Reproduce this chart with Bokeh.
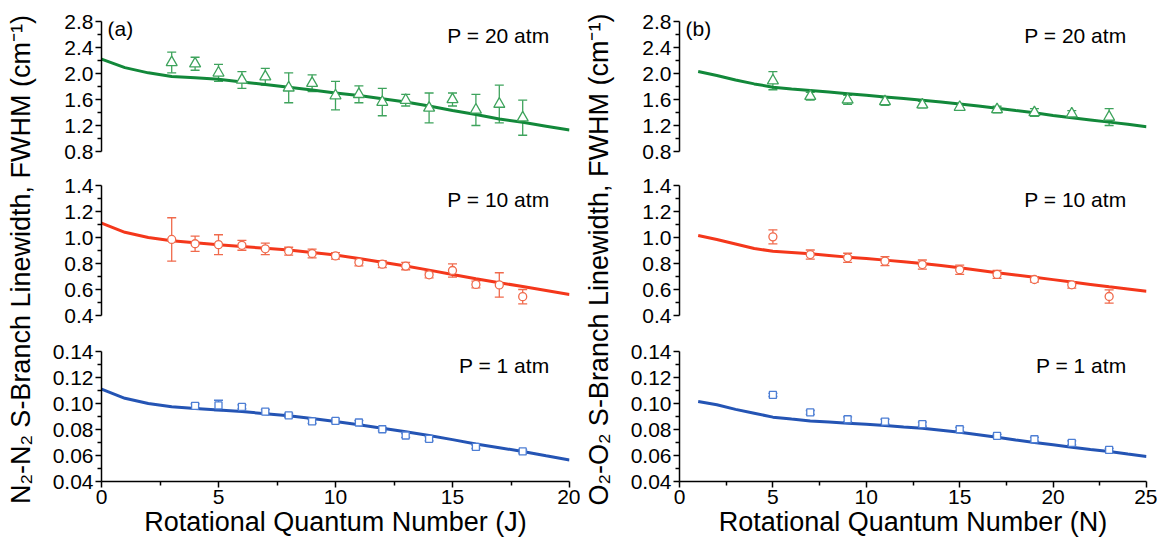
from math import pi
from bokeh.plotting import figure
from bokeh.layouts import row, column
from bokeh.models import (ColumnDataSource, Range1d, FixedTicker, NumeralTickFormatter,
                          Whisker, TeeHead, Label)
from bokeh.embed import file_html
from bokeh.resources import INLINE

# ---------------- data : (a) N2-N2 ----------------
J_model = list(range(0, 21))
model20_N2 = [2.22, 2.09, 2.01, 1.955, 1.935, 1.91, 1.87, 1.83, 1.79, 1.745, 1.70, 1.66,
              1.61, 1.56, 1.50, 1.43, 1.37, 1.30, 1.25, 1.19, 1.13]
model10_N2 = [1.11, 1.04, 1.00, 0.975, 0.96, 0.945, 0.93, 0.918, 0.903, 0.885, 0.865,
              0.838, 0.81, 0.78, 0.749, 0.715, 0.682, 0.652, 0.623, 0.593, 0.562]
model1_N2 = [0.111, 0.104, 0.100, 0.0975, 0.0962, 0.095, 0.0938, 0.0922, 0.0905, 0.0885,
             0.0862, 0.0837, 0.081, 0.0783, 0.0754, 0.0722, 0.0689, 0.066, 0.0631, 0.0598, 0.0566]

J_20 = [3, 4, 5, 6, 7, 8, 9, 10, 11, 12, 13, 14, 15, 16, 17, 18]
fwhm20_N2 = [2.17, 2.15, 2.01, 1.90, 1.95, 1.78, 1.85, 1.66, 1.68, 1.56, 1.59, 1.47, 1.60, 1.44, 1.53, 1.32]
err20_N2 = [0.16, 0.10, 0.13, 0.13, 0.13, 0.23, 0.13, 0.22, 0.13, 0.21, 0.09, 0.23, 0.10, 0.24, 0.29, 0.27]

J_10 = [3, 4, 5, 6, 7, 8, 9, 10, 11, 12, 13, 14, 15, 16, 17, 18]
fwhm10_N2 = [0.985, 0.952, 0.945, 0.940, 0.913, 0.895, 0.877, 0.858, 0.809, 0.795, 0.780,
             0.713, 0.746, 0.639, 0.635, 0.545]
err10_N2 = [0.167, 0.059, 0.076, 0.038, 0.044, 0.030, 0.033, 0.025, 0.027, 0.026, 0.028,
            0.023, 0.051, 0.026, 0.094, 0.055]

J_1 = [4, 5, 6, 7, 8, 9, 10, 11, 12, 13, 14, 16, 18]
fwhm1_N2 = [0.0982, 0.0985, 0.0974, 0.0938, 0.0908, 0.0862, 0.0866, 0.0854, 0.0802, 0.0754,
            0.0728, 0.0666, 0.0631]
err1_N2 = [0.0015, 0.004, 0.0015, 0.0015, 0.0015, 0.0015, 0.0015, 0.0015, 0.0012, 0.0015,
           0.0015, 0.0012, 0.0012]

# ---------------- data : (b) O2-O2 ----------------
N_model = list(range(1, 26))
model20_O2 = [2.03, 1.97, 1.90, 1.84, 1.79, 1.76, 1.74, 1.715, 1.69, 1.665, 1.64, 1.615, 1.59,
              1.56, 1.53, 1.50, 1.467, 1.43, 1.395, 1.355, 1.318, 1.285, 1.252, 1.218, 1.18]
model10_O2 = [1.015, 0.985, 0.95, 0.915, 0.895, 0.885, 0.875, 0.862, 0.849, 0.838, 0.826, 0.813,
              0.80, 0.784, 0.767, 0.748, 0.728, 0.712, 0.695, 0.676, 0.657, 0.639, 0.621, 0.604, 0.586]
model1_O2 = [0.1015, 0.099, 0.0955, 0.0925, 0.0895, 0.088, 0.0866, 0.0857, 0.0848, 0.084, 0.0831,
             0.082, 0.081, 0.0795, 0.0779, 0.076, 0.0741, 0.072, 0.070, 0.0682, 0.0664, 0.0647,
             0.0631, 0.0611, 0.0592]

N_pts = [5, 7, 9, 11, 13, 15, 17, 19, 21, 23]
fwhm20_O2 = [1.89, 1.65, 1.595, 1.57, 1.52, 1.483, 1.446, 1.40, 1.38, 1.33]
err20_O2 = [0.14, 0.06, 0.07, 0.06, 0.05, 0.05, 0.05, 0.06, 0.05, 0.13]
fwhm10_O2 = [1.005, 0.869, 0.844, 0.818, 0.792, 0.752, 0.716, 0.677, 0.636, 0.546]
err10_O2 = [0.054, 0.035, 0.035, 0.035, 0.035, 0.035, 0.03, 0.02, 0.025, 0.051]
fwhm1_O2 = [0.1066, 0.0931, 0.0879, 0.0861, 0.0841, 0.0802, 0.0751, 0.0725, 0.0697, 0.0643]
err1_O2 = [0.0012, 0.0015, 0.0018, 0.0018, 0.0015, 0.0015, 0.0012, 0.0015, 0.0015, 0.0012]

# ---------------- ticks / labels ----------------
yt20 = [0.8, 1.2, 1.6, 2.0, 2.4, 2.8]
ym20 = [1.0, 1.4, 1.8, 2.2, 2.6]
yt10 = [0.4, 0.6, 0.8, 1.0, 1.2, 1.4]
ym10 = [0.5, 0.7, 0.9, 1.1, 1.3]
yt1 = [0.04, 0.06, 0.08, 0.10, 0.12, 0.14]
ym1 = [0.05, 0.07, 0.09, 0.11, 0.13]
xt_J = [0, 5, 10, 15, 20]
xm_J = [2.5, 7.5, 12.5, 17.5]
xt_N = [0, 5, 10, 15, 20, 25]
xm_N = [2.5, 7.5, 12.5, 17.5, 22.5]

pressure_labels = ["P = 20 atm", "P = 10 atm", "P = 1 atm"]
title_left = "N\u2082-N\u2082 S-Branch Linewidth, FWHM (cm\u207b\u00b9)"
title_right = "O\u2082-O\u2082 S-Branch Linewidth, FWHM (cm\u207b\u00b9)"
xlabel_left = "Rotational Quantum Number (J)"
xlabel_right = "Rotational Quantum Number (N)"

# ---------------- styles ----------------
FONT = "Liberation Sans"
GREEN_L, GREEN_M = "#12883a", "#3ea35c"
RED_L, RED_M = "#f4371b", "#f06a4c"
BLUE_L, BLUE_M = "#2454b4", "#4d7ed4"

FRAME_H = 130
LEFT_W, LEFT_BL, LEFT_BR = 540, 61, 11
RIGHT_W, RIGHT_BL, RIGHT_BR = 540, 62, 11
ROWS = [(168, 21, 17), (166, 17, 19), (208, 17, 61)]


def style_axis(ax, ticks, minor, fmt):
    ax.ticker = FixedTicker(ticks=ticks, minor_ticks=minor)
    ax.formatter = NumeralTickFormatter(format=fmt)
    ax.axis_line_color = "black"
    ax.axis_line_width = 1.5
    ax.major_tick_line_color = "black"
    ax.major_tick_line_width = 1.5
    ax.minor_tick_line_color = "black"
    ax.minor_tick_line_width = 1.5
    ax.major_tick_in = 0
    ax.major_tick_out = 6
    ax.minor_tick_in = 0
    ax.minor_tick_out = 4
    ax.major_label_standoff = 2
    ax.major_label_text_font = FONT
    ax.major_label_text_font_size = "21px"
    ax.major_label_text_color = "black"


def panel(width, bl, br, rowspec, xr, yr, yticks, yminor, yfmt, color_l, color_m, marker,
          xm, ym, xp, yp, ep, plabel, xticks=None, xminor=None, xlabel=None, tag=None):
    h, bt, bb = rowspec
    p = figure(width=width, height=h, x_range=Range1d(*xr), y_range=Range1d(*yr),
               output_backend="svg", toolbar_location=None,
               x_axis_location="below" if xlabel else None, y_axis_location="left",
               min_border_left=bl, min_border_right=br, min_border_top=bt, min_border_bottom=bb)
    p.outline_line_color = None
    p.grid.visible = False
    p.background_fill_color = "white"
    p.border_fill_color = "white"
    style_axis(p.yaxis[0], yticks, yminor, yfmt)
    if xlabel:
        xa = p.xaxis[0]
        style_axis(xa, xticks, xminor, "0")
        xa.axis_label = xlabel
        xa.axis_label_text_font = FONT
        xa.axis_label_text_font_size = "27px"
        xa.axis_label_text_font_style = "normal"
        xa.axis_label_standoff = 0
        xa.axis_label_text_color = "black"

    p.line(xm, ym, line_color=color_l, line_width=3)

    src = ColumnDataSource(dict(x=xp, y=yp,
                                upper=[v + e for v, e in zip(yp, ep)],
                                lower=[v - e for v, e in zip(yp, ep)]))
    w = Whisker(base="x", upper="upper", lower="lower", source=src,
                line_color=color_m, line_width=1.3,
                upper_head=TeeHead(size=9, line_color=color_m, line_width=1.3),
                lower_head=TeeHead(size=9, line_color=color_m, line_width=1.3))
    p.add_layout(w)
    msize = {"triangle": 11, "circle": 8, "square": 7}[marker]
    p.scatter("x", "y", source=src, marker=marker, size=msize, fill_color="white",
              line_color=color_m, line_width=1.3)

    frame_w = width - bl - br
    xspan = xr[1] - xr[0]
    yspan = yr[1] - yr[0]
    p.add_layout(Label(x=xr[1] - xspan * 20 / frame_w, y=yr[1] - yspan * 14 / FRAME_H,
                       text=plabel, text_align="right", text_baseline="middle",
                       text_font=FONT, text_font_size="21px", text_color="black"))
    if tag:
        p.add_layout(Label(x=xr[0] + xspan * 6 / frame_w, y=yr[1] - yspan * 7 / FRAME_H,
                           text=tag, text_align="left", text_baseline="middle",
                           text_font=FONT, text_font_size="21px", text_color="black"))
    return p


def title_fig(width, height, text, xc, yc):
    t = figure(width=width, height=height, x_range=Range1d(0, 1), y_range=Range1d(0, 1),
               output_backend="svg", toolbar_location=None,
               x_axis_location=None, y_axis_location=None, min_border=0)
    t.outline_line_color = None
    t.grid.visible = False
    t.background_fill_color = "white"
    t.border_fill_color = "white"
    t.add_layout(Label(x=xc, y=yc, text=text, angle=pi / 2, text_align="center",
                       text_baseline="middle", text_font=FONT, text_font_size="27px",
                       text_color="black"))
    return t


TOTAL_H = sum(r[0] for r in ROWS)

# left column
pa1 = panel(LEFT_W, LEFT_BL, LEFT_BR, ROWS[0], (0, 20), (0.8, 2.8), yt20, ym20, "0.0",
            GREEN_L, GREEN_M, "triangle", J_model, model20_N2, J_20, fwhm20_N2, err20_N2,
            pressure_labels[0], tag="(a)")
pa2 = panel(LEFT_W, LEFT_BL, LEFT_BR, ROWS[1], (0, 20), (0.4, 1.4), yt10, ym10, "0.0",
            RED_L, RED_M, "circle", J_model, model10_N2, J_10, fwhm10_N2, err10_N2,
            pressure_labels[1])
pa3 = panel(LEFT_W, LEFT_BL, LEFT_BR, ROWS[2], (0, 20), (0.04, 0.14), yt1, ym1, "0.00",
            BLUE_L, BLUE_M, "square", J_model, model1_N2, J_1, fwhm1_N2, err1_N2,
            pressure_labels[2], xticks=xt_J, xminor=xm_J, xlabel=xlabel_left)

# right column
pb1 = panel(RIGHT_W, RIGHT_BL, RIGHT_BR, ROWS[0], (0, 25), (0.8, 2.8), yt20, ym20, "0.0",
            GREEN_L, GREEN_M, "triangle", N_model, model20_O2, N_pts, fwhm20_O2, err20_O2,
            pressure_labels[0], tag="(b)")
pb2 = panel(RIGHT_W, RIGHT_BL, RIGHT_BR, ROWS[1], (0, 25), (0.4, 1.4), yt10, ym10, "0.0",
            RED_L, RED_M, "circle", N_model, model10_O2, N_pts, fwhm10_O2, err10_O2,
            pressure_labels[1])
pb3 = panel(RIGHT_W, RIGHT_BL, RIGHT_BR, ROWS[2], (0, 25), (0.04, 0.14), yt1, ym1, "0.00",
            BLUE_L, BLUE_M, "square", N_model, model1_O2, N_pts, fwhm1_O2, err1_O2,
            pressure_labels[2], xticks=xt_N, xminor=xm_N, xlabel=xlabel_right)

ta = title_fig(40, TOTAL_H, title_left, 0.5, 0.522)
tb = title_fig(37, TOTAL_H, title_right, 0.5, 0.522)

layout = row(ta, column(pa1, pa2, pa3), tb, column(pb1, pb2, pb3))

open("out.html", "w").write(file_html(layout, INLINE))
